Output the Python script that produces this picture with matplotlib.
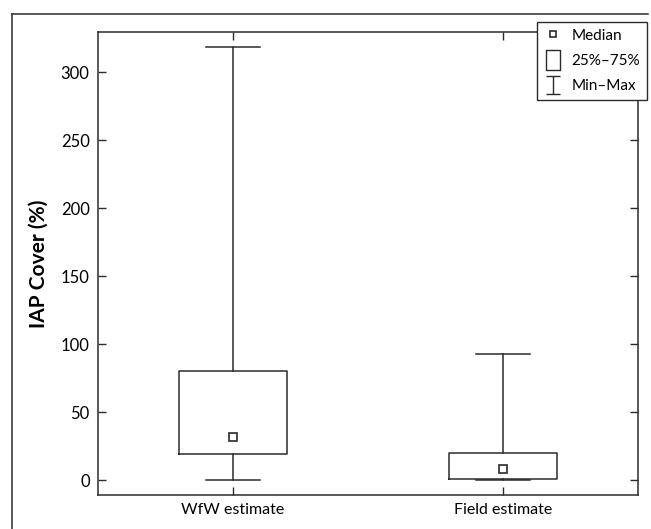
import numpy as np
import matplotlib
matplotlib.use("Agg")
import matplotlib.pyplot as plt
from matplotlib.lines import Line2D
from matplotlib.path import Path

plt.rcParams['font.family'] = ['Lato', 'DejaVu Sans']

# data
groups = ["WfW estimate", "Field estimate"]
minimum = [0, 0]
q1 = [19.5, 1]
median = [32, 8]
q3 = [80, 20]
maximum = [319, 93]
yticks = [0, 50, 100, 150, 200, 250, 300]

ink = "#2b2b2b"

fig = plt.figure(figsize=(6.51, 5.29), dpi=100)
ax = fig.add_axes([0.1505, 0.0643, 0.8295, 0.8758])

stats = []
for i, name in enumerate(groups):
    stats.append(dict(label=name, whislo=minimum[i], q1=q1[i], med=median[i],
                      q3=q3[i], whishi=maximum[i], mean=median[i]))

pos = np.arange(1, len(groups) + 1)
ax.bxp(stats, positions=pos, widths=0.4, capwidths=0.2, showfliers=False,
       showmeans=True,
       boxprops=dict(color=ink, linewidth=1.1),
       whiskerprops=dict(color=ink, linewidth=1.1),
       capprops=dict(color=ink, linewidth=1.1),
       medianprops=dict(linewidth=0),
       meanprops=dict(marker='s', markersize=6, markerfacecolor='white',
                      markeredgecolor=ink, markeredgewidth=1.2))

ax.set_xlim(0.5, 2.5)
ax.set_ylim(-11, 330)
ax.set_yticks(yticks)
ax.set_xticks(pos)
ax.set_xticklabels(groups)
ax.tick_params(axis='both', direction='in', length=6, width=1, color=ink,
               top=True, right=True, labelsize=12, pad=6)
ax.tick_params(axis='x', labelsize=11.5)
for s in ax.spines.values():
    s.set_color(ink)
    s.set_linewidth(1.1)
ax.set_ylabel("IAP Cover (%)", fontsize=15, fontweight='bold', labelpad=9)

# legend handles: small square, tall box, I-beam
box_marker = Path([(-0.65, -1), (0.65, -1), (0.65, 1), (-0.65, 1), (-0.65, -1)],
                  [Path.MOVETO, Path.LINETO, Path.LINETO, Path.LINETO, Path.CLOSEPOLY])
ibeam = Path([(-0.7, 1), (0.7, 1), (0, 1), (0, -1), (-0.7, -1), (0.7, -1)],
             [Path.MOVETO, Path.LINETO, Path.MOVETO, Path.LINETO, Path.MOVETO, Path.LINETO])
handles = [
    Line2D([], [], linestyle='none', marker='s', markersize=5,
           markerfacecolor='white', markeredgecolor=ink, markeredgewidth=1.2),
    Line2D([], [], linestyle='none', marker=box_marker, markersize=15,
           markerfacecolor='white', markeredgecolor=ink, markeredgewidth=1),
    Line2D([], [], linestyle='none', marker=ibeam, markersize=13.5,
           markerfacecolor='none', markeredgecolor=ink, markeredgewidth=1),
]
leg = fig.legend(handles, ["Median", "25%–75%", "Min–Max"], loc='upper right',
                 bbox_to_anchor=(0.994, 0.959), borderaxespad=0, fontsize=11,
                 fancybox=False, framealpha=1, edgecolor=ink, handlelength=1.2,
                 handletextpad=0.6, labelspacing=0.75, borderpad=0.45)
leg.get_frame().set_linewidth(1)

# outer frame (top and left)
fig.add_artist(Line2D([12 / 651, 648 / 651], [1 - 14 / 529, 1 - 14 / 529],
                      transform=fig.transFigure, color=ink, linewidth=1.1))
fig.add_artist(Line2D([12 / 651, 12 / 651], [1 - 14 / 529, 0],
                      transform=fig.transFigure, color=ink, linewidth=1.1))

fig.savefig("out.png", dpi=100)
